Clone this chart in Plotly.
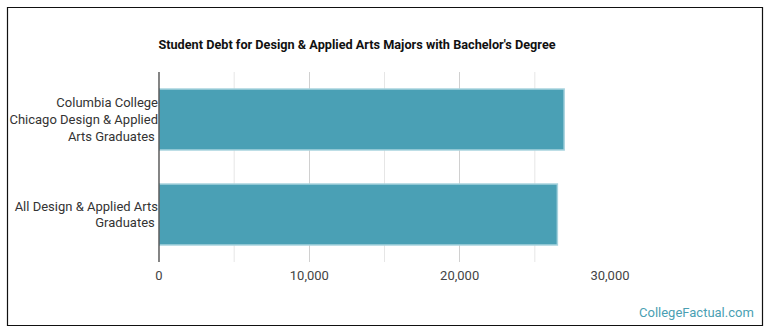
import plotly.graph_objects as go

categories = ["Columbia College<br>Chicago Design & Applied<br>Arts Graduates",
              "All Design & Applied Arts<br>Graduates"]
values = [26950, 26500]
tick_vals = [0, 10000, 20000, 30000]
tick_text = ["0", "10,000", "20,000", "30,000"]
minor_vals = [5000, 15000, 25000]

W, H = 770, 335
L, R, T, B = 159, 610, 72, 262

fig = go.Figure()
fig.add_trace(go.Bar(
    y=categories, x=values, orientation="h",
    marker=dict(color="#4aa0b5", line=dict(color="#a8d3de", width=1.5)),
    width=0.64, hoverinfo="x+y",
))

def px(x):
    return (x - L) / (R - L)

def py(y):
    return (B - y) / (B - T)

shapes = [
    dict(type="rect", xref="paper", yref="paper",
         x0=px(7.5), x1=px(762.5), y0=py(325.5), y1=py(7.5),
         line=dict(color="#111", width=1.2), fillcolor="rgba(0,0,0,0)", layer="below"),
]
for v in minor_vals:
    shapes.append(dict(type="line", xref="x", yref="paper", x0=v, x1=v, y0=0, y1=1,
                       line=dict(color="#e6e6e6", width=1), layer="below"))

fig.update_layout(
    width=W, height=H,
    margin=dict(l=L, r=W - R, t=T, b=H - B, autoexpand=False),
    paper_bgcolor="white", plot_bgcolor="white",
    font=dict(family="Roboto", size=13, color="#333"),
    title=dict(text="<b>Student Debt for Design & Applied Arts Majors with Bachelor's Degree</b>",
               x=px(357), xref="paper", xanchor="center", y=1 - 45 / H, yanchor="middle",
               font=dict(family="Roboto", size=12.7, color="#111")),
    showlegend=False,
    bargap=0.36,
    shapes=shapes,
    xaxis=dict(range=[0, 30000], tickvals=tick_vals, ticktext=tick_text,
               showgrid=True, gridcolor="#d0d0d0", gridwidth=1, automargin=False,
               zeroline=False, showline=False, ticks="", ticklabelstandoff=4,
               tickfont=dict(size=13, color="#444"), fixedrange=True),
    yaxis=dict(categoryorder="array", categoryarray=categories[::-1], automargin=False,
               showgrid=False, zeroline=False, showline=False, ticks="",
               ticksuffix=" ", tickfont=dict(size=13, color="#333"), fixedrange=True),
    annotations=[dict(text="CollegeFactual.com", xref="paper", yref="paper",
                      x=px(756), y=py(312), xanchor="right", yanchor="middle",
                      showarrow=False, font=dict(family="Roboto", size=13, color="#4a9fb3"))],
)
fig.add_shape(type="line", xref="paper", yref="paper", x0=0, x1=0, y0=0, y1=1,
              line=dict(color="#333", width=1.2))

fig.write_html("out.html")
